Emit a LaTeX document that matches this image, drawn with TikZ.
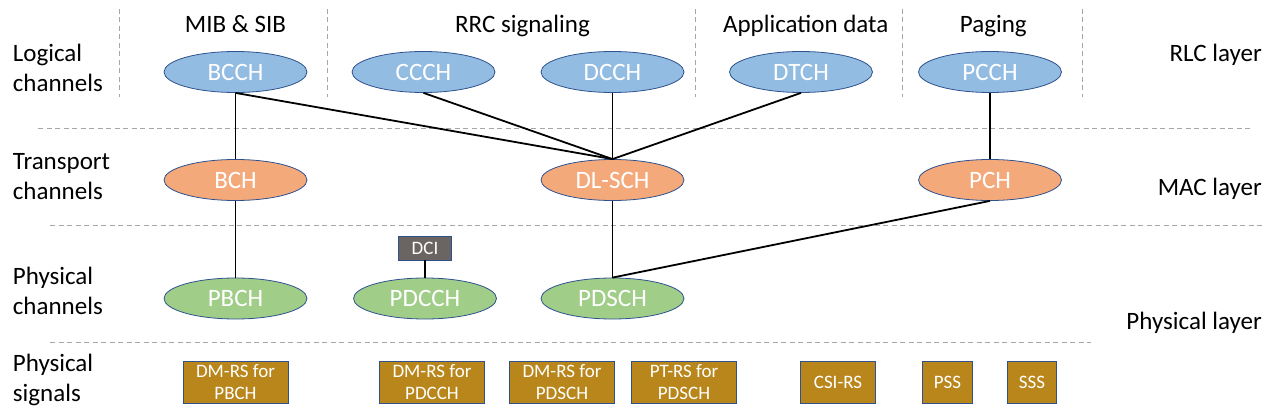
\documentclass[tikz,border=0pt]{standalone}
\usepackage{fontspec}
\setmainfont{Carlito}
\usepackage{tikz}
\usetikzlibrary{shapes.geometric}
\definecolor{logfill}{HTML}{92BCE2}
\definecolor{trfill}{HTML}{F4A97B}
\definecolor{phfill}{HTML}{A0CD88}
\definecolor{sigfill}{HTML}{B8861A}
\definecolor{dcifill}{HTML}{6A6562}
\definecolor{ebord}{HTML}{2F528F}
\definecolor{sepgray}{HTML}{A6A6A6}

\begin{document}
\begin{tikzpicture}[x=1pt,y=-1pt,
chan/.style={ellipse,draw=ebord,line width=0.8pt,minimum width=143pt,minimum height=41pt,inner sep=0pt,text=white,font=\fontsize{25}{30}\selectfont},
logch/.style={chan,fill=logfill},
trch/.style={chan,fill=trfill},
phch/.style={chan,fill=phfill},
sigbox/.style={rectangle,draw=ebord,line width=0.8pt,fill=sigfill,text=white,minimum height=42pt,inner sep=0pt,align=center,font=\fontsize{19}{22.5}\selectfont},
layerline/.style={draw=sepgray,line width=0.9pt,dash pattern=on 5pt off 3.5pt},
conn/.style={line width=1.8pt},
lbl/.style={font=\fontsize{25}{30}\selectfont,align=left,inner sep=0pt}]
\useasboundingbox (0,0) rectangle (1274,417);
\def\ylog{72}
\def\ytr{180}
\def\yph{298.5}
\def\ysig{382}
% dashed separators
\foreach \x in {119.3,327.3,695.7,902.3,1082.3}{
\draw[layerline] (\x,9)--(\x,97);
}
\draw[layerline] (38,128.3)--(1252,128.3);
\draw[layerline] (50,225.3)--(1263,225.3);
\draw[layerline] (50,342)--(1091,342);
% headings
\foreach \n/\t/\x in {mib/{MIB \& SIB}/235.5, rrc/{RRC signaling}/522.5, app/{Application data}/805.7, pag/{Paging}/993.3}{
\node[lbl,anchor=base] (\n) at (\x,33) {\t};
}
\foreach \n/\t/\y in {lglbl/{Logical\\channels}/67.5, trlbl/{Transport\\channels}/177, phlbl/{Physical\\channels}/291, siglbl/{Physical\\signals}/379.5}{
\node[lbl,anchor=west] (\n) at (12.7,\y) {\t};
}
\foreach \n/\t/\y in {rlc/{RLC layer}/62, mac/{MAC layer}/195, phy/{Physical layer}/329}{
\node[lbl,anchor=base east] (\n) at (1262,\y) {\t};
}
% channels
\foreach \n/\t/\x in {bcch/BCCH/235.5, ccch/CCCH/423.5, dcch/DCCH/612.5, dtch/DTCH/801, pcch/PCCH/990}{
\node[logch] (\n) at (\x,\ylog) {\t};
}
\foreach \n/\t/\x in {bch/BCH/235.5, dlsch/DL-SCH/612.5, pch/PCH/990}{
\node[trch] (\n) at (\x,\ytr) {\t};
}
\foreach \n/\t/\x in {pbch/PBCH/235.5, pdcch/PDCCH/425, pdsch/PDSCH/612.5}{
\node[phch] (\n) at (\x,\yph) {\t};
}
\node[rectangle,draw=ebord,line width=0.8pt,fill=dcifill,text=white,minimum width=53pt,minimum height=24pt,inner sep=0pt,font=\fontsize{19}{22}\selectfont] (dci) at (425,248) {DCI};
% signals
\foreach \n/\t/\x/\w in {dmpbch/{DM-RS for\\PBCH}/235.5/105, dmpdcch/{DM-RS for\\PDCCH}/432/105, dmpdsch/{DM-RS for\\PDSCH}/562/105, ptpdsch/{PT-RS for\\PDSCH}/684/105, csirs/{CSI-RS}/838/75, pss/{PSS}/947.5/50, sss/{SSS}/1032/49}{
\node[sigbox,minimum width=\w pt] (\n) at (\x,\ysig) {\t};
}
% connectors
\foreach \a/\b in {bcch/bch, bcch/dlsch, ccch/dlsch, dcch/dlsch, dtch/dlsch, pcch/pch, bch/pbch, dlsch/pdsch, pch/pdsch, dci/pdcch}{
\draw[conn] (\a.south)--(\b.north);
}
\end{tikzpicture}
\end{document}
